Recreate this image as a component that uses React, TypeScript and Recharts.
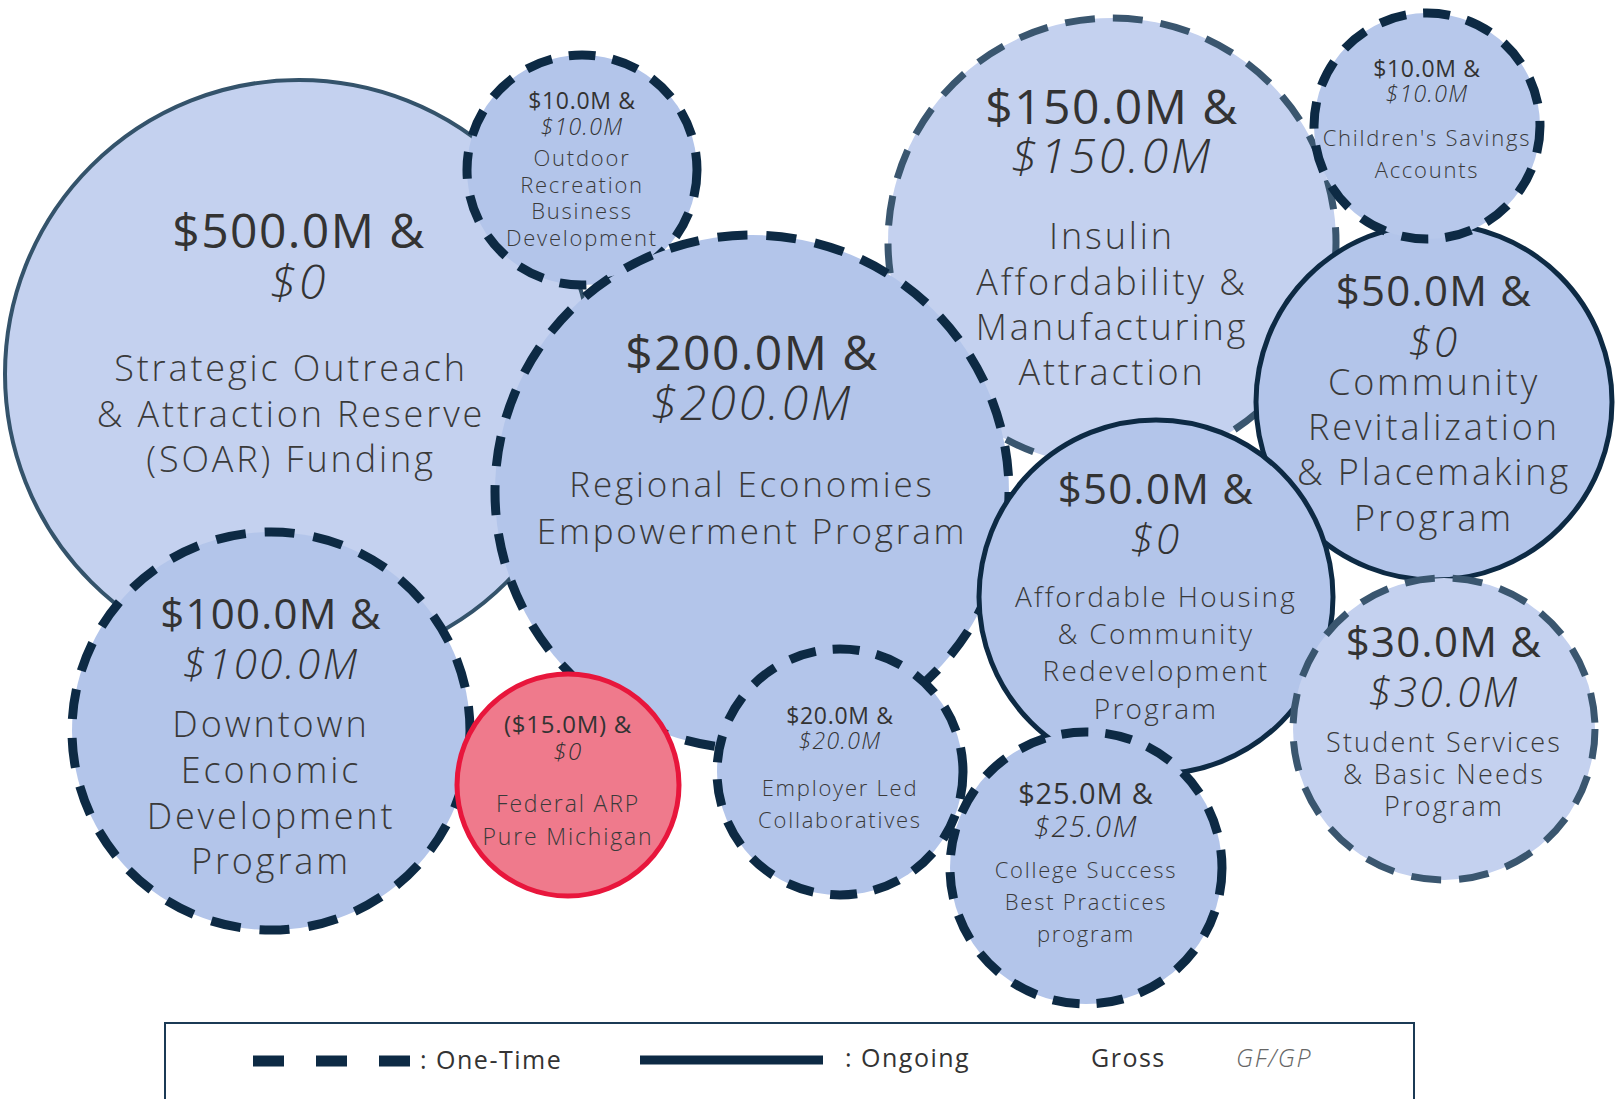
import { ScatterChart, Scatter, XAxis, YAxis } from 'recharts';

const W = 1615;
const H = 1099;
const FONT = '"Open Sans", "Noto Sans", sans-serif';

// bubbles, in drawing order
const grossLabels = ['$500.0M', '$150.0M', '$50.0M', '$10.0M', '$10.0M', '$200.0M', '$100.0M', '$50.0M', '$30.0M', '($15.0M)', '$20.0M', '$25.0M'];
const gfgpLabels = ['$0', '$150.0M', '$0', '$10.0M', '$10.0M', '$200.0M', '$100.0M', '$0', '$30.0M', '$0', '$20.0M', '$25.0M'];
const programLines = [
  ['Strategic Outreach', '& Attraction Reserve', '(SOAR) Funding'],
  ['Insulin', 'Affordability &', 'Manufacturing', 'Attraction'],
  ['Community', 'Revitalization', '& Placemaking', 'Program'],
  ["Children's Savings", 'Accounts'],
  ['Outdoor', 'Recreation', 'Business', 'Development'],
  ['Regional Economies', 'Empowerment Program'],
  ['Downtown', 'Economic', 'Development', 'Program'],
  ['Affordable Housing', '& Community', 'Redevelopment', 'Program'],
  ['Student Services', '& Basic Needs', 'Program'],
  ['Federal ARP', 'Pure Michigan'],
  ['Employer Led', 'Collaboratives'],
  ['College Success', 'Best Practices', 'program'],
];
const fundingType = ['ongoing', 'one-time', 'ongoing', 'one-time', 'one-time', 'one-time', 'one-time', 'ongoing', 'one-time', 'ongoing', 'one-time', 'one-time'];
const xs = [299, 1112, 1434, 1427, 582, 752, 271, 1156, 1444, 568, 840, 1086];
const ys = [374, 242, 402, 126, 170, 492, 731, 597, 729, 785, 772, 868];
const radii = [294, 224, 178, 113, 115, 257, 199, 177, 151, 111, 123, 136];

// look of each bubble (same order)
const LOOK = [
  { fill: '#c4d1ef', stroke: '#34536b', sw: 4, dash: '' },
  { fill: '#c4d1ef', stroke: '#3a566f', sw: 7, dash: '30 18' },
  { fill: '#b3c5ea', stroke: '#0d2a44', sw: 5, dash: '' },
  { fill: '#b7c8eb', stroke: '#0d2a44', sw: 9, dash: '27 17' },
  { fill: '#b3c5ea', stroke: '#0d2a44', sw: 9, dash: '27 17' },
  { fill: '#b3c5ea', stroke: '#0d2a44', sw: 9, dash: '30 19' },
  { fill: '#b3c5ea', stroke: '#0d2a44', sw: 9, dash: '30 19' },
  { fill: '#b3c5ea', stroke: '#0d2a44', sw: 5, dash: '' },
  { fill: '#c4d1ef', stroke: '#3a566f', sw: 7, dash: '30 18' },
  { fill: '#ef7a8c', stroke: '#e8163c', sw: 5, dash: '' },
  { fill: '#b3c5ea', stroke: '#0d2a44', sw: 9, dash: '27 17' },
  { fill: '#b3c5ea', stroke: '#0d2a44', sw: 9, dash: '27 17' },
];

// text layout: font sizes and baseline offsets from the centre
const TEXT = [
  { amt: 48, lbl: 36, a: [-126, -75], l: [7, 53, 98], ldx: -8 },
  { amt: 48, lbl: 36, a: [-118, -69], l: [7, 53, 98, 143], ldx: 0 },
  { amt: 42, lbl: 36, a: [-96, -45], l: [-7, 38, 83, 129], ldx: 0 },
  { amt: 23, lbl: 22, a: [-49, -24], l: [20, 52], ldx: 0 },
  { amt: 23, lbl: 22, a: [-61, -35], l: [-4, 23, 49, 76], ldx: 0 },
  { amt: 48, lbl: 35, a: [-122, -72], l: [5, 52], ldx: 0 },
  { amt: 42, lbl: 36, a: [-102, -52], l: [6, 52, 98, 143], ldx: 0 },
  { amt: 42, lbl: 28, a: [-93, -43], l: [10, 47, 84, 122], ldx: 0 },
  { amt: 42, lbl: 27, a: [-72, -22], l: [23, 55, 87], ldx: 0 },
  { amt: 24, lbl: 23, a: [-52, -25], l: [27, 60], ldx: 0 },
  { amt: 23, lbl: 22, a: [-48, -23], l: [24, 56], ldx: 0 },
  { amt: 29, lbl: 22, a: [-64, -31], l: [10, 42, 74], ldx: 0 },
];

const bubbles = xs.map((x, i) => ({
  x,
  y: ys[i],
  r: radii[i],
  idx: i,
  gross: grossLabels[i],
  gfgp: gfgpLabels[i],
  lines: programLines[i],
  type: fundingType[i],
}));

const pxPerUnit = W / W;

const BubbleShape = (props: any) => {
  const { cx, cy, payload } = props;
  const look = LOOK[payload.idx];
  const r = payload.r * pxPerUnit;
  return (
    <circle
      cx={cx}
      cy={cy}
      r={r}
      fill={look.fill}
      stroke={look.stroke}
      strokeWidth={look.sw}
      strokeDasharray={look.dash || undefined}
    />
  );
};

const BubbleText = (props: any) => {
  const { cx, cy, payload } = props;
  const t = TEXT[payload.idx];
  return (
    <g fontFamily={FONT} fill="#333333" textAnchor="middle">
      <text x={cx} y={cy + t.a[0]} fontSize={t.amt} letterSpacing="0.03em">{payload.gross} &amp;</text>
      <text x={cx} y={cy + t.a[1]} fontSize={t.amt} fontStyle="italic" fontWeight={300} letterSpacing="0.06em">{payload.gfgp}</text>
      {payload.lines.map((ln: string, k: number) => (
        <text key={k} x={cx + t.ldx} y={cy + t.l[k]} fontSize={t.lbl} fontWeight={300} fill="#3a3a3a" letterSpacing="0.08em">{ln}</text>
      ))}
    </g>
  );
};

const Legend = () => (
  <svg width={W} height={H} style={{ position: 'absolute', left: 0, top: 0, pointerEvents: 'none' }}>
    <rect x={165} y={1023} width={1249} height={100} fill="none" stroke="#1b3a55" strokeWidth={2} />
    <line x1={253} y1={1061} x2={412} y2={1061} stroke="#0d2a44" strokeWidth={11} strokeDasharray="31 32" />
    <g fontFamily={FONT} fontSize={25} fill="#333" letterSpacing="0.06em">
      <text x={420} y={1069}>: One-Time</text>
      <text x={845} y={1067}>: Ongoing</text>
      <text x={1091} y={1067}>Gross</text>
      <text x={1236} y={1067} fontStyle="italic" fontWeight={300} fill="#666">GF/GP</text>
    </g>
    <line x1={640} y1={1060} x2={823} y2={1060} stroke="#0d2a44" strokeWidth={9} />
  </svg>
);

export default function App() {
  return (
    <div style={{ position: 'absolute', left: 0, top: 0, width: W, height: H, background: '#fff' }}>
      <ScatterChart width={W} height={H} margin={{ top: 0, right: 0, bottom: 0, left: 0 }}>
        <XAxis type="number" dataKey="x" domain={[0, W]} hide />
        <YAxis type="number" dataKey="y" domain={[0, H]} reversed hide />
        <Scatter data={bubbles} shape={BubbleShape} isAnimationActive={false} />
        <Scatter data={bubbles} shape={BubbleText} isAnimationActive={false} />
      </ScatterChart>
      <Legend />
    </div>
  );
}
